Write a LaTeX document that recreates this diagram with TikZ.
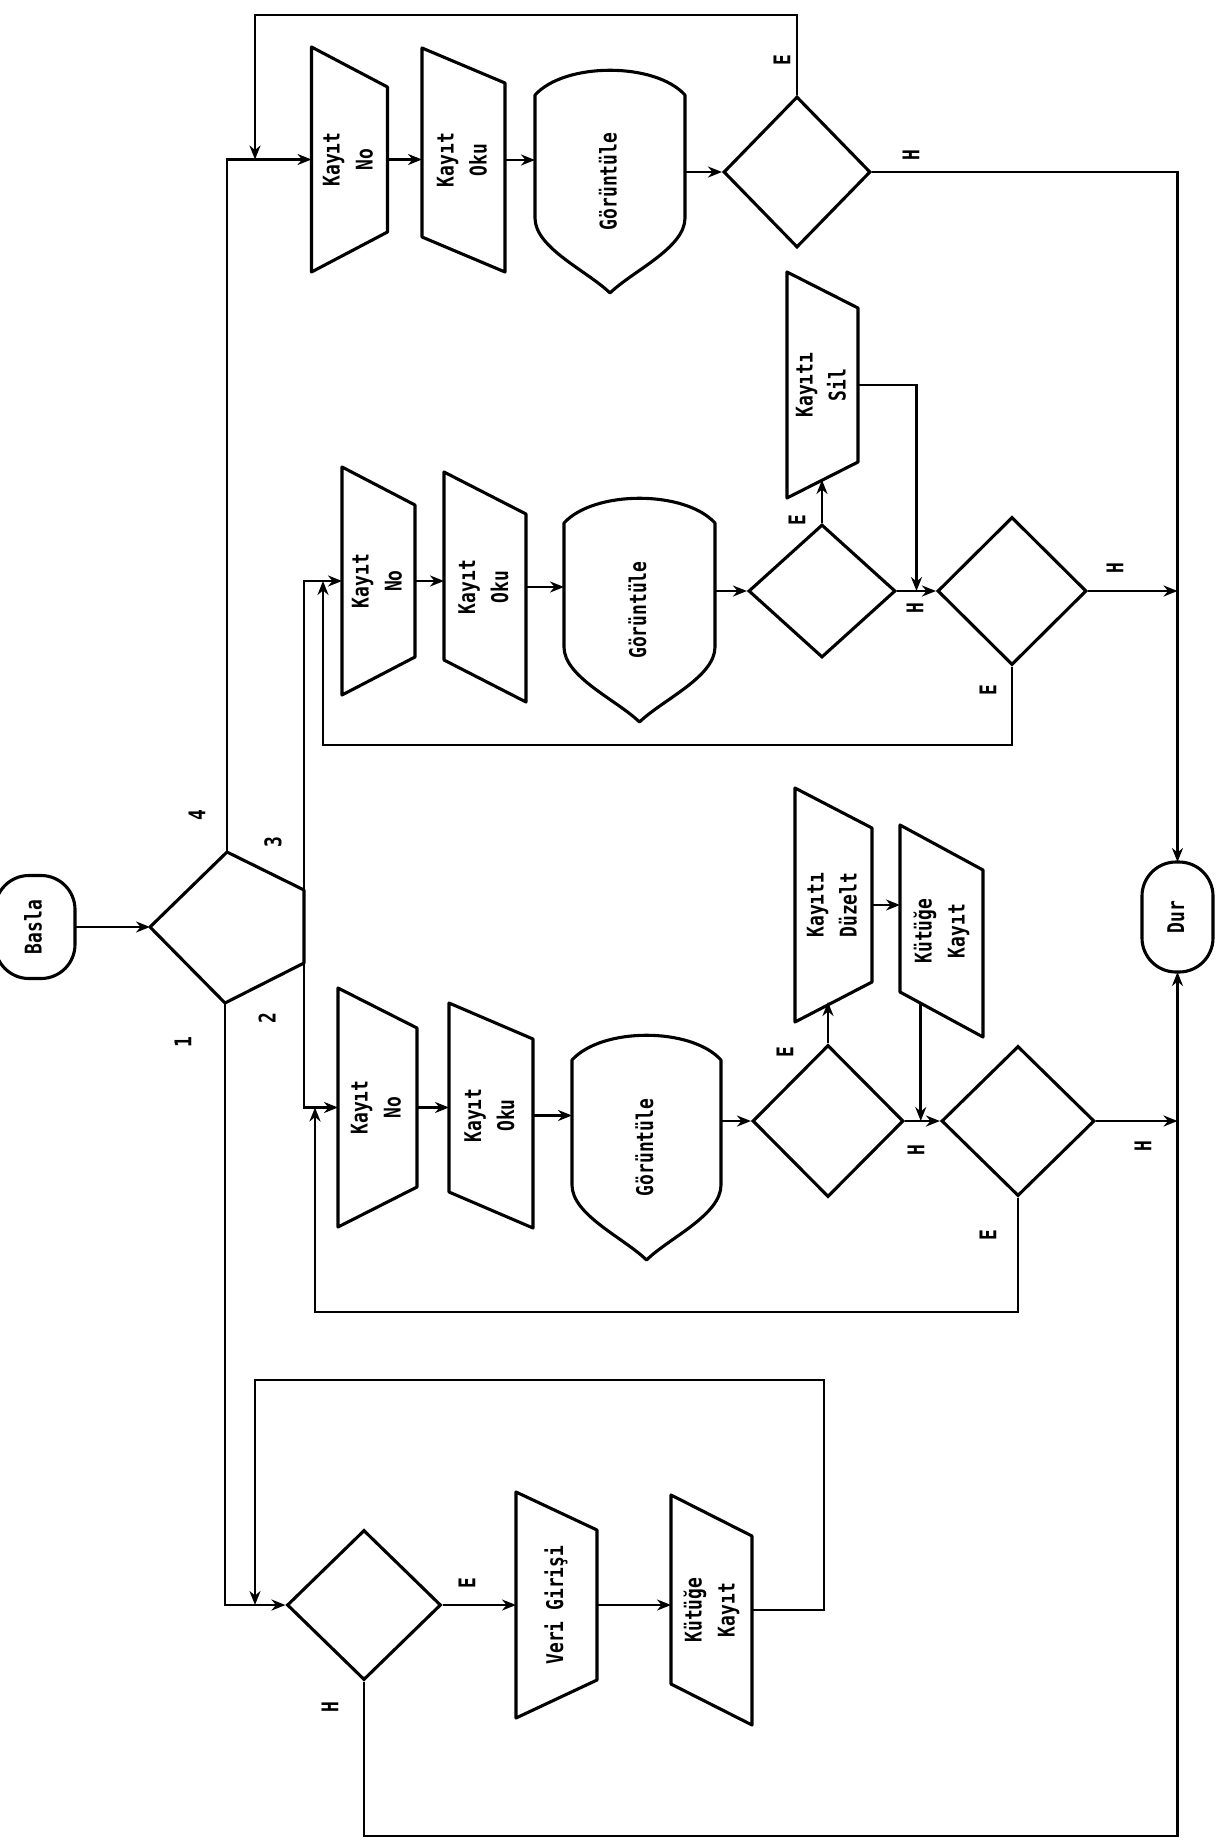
\documentclass[tikz,border=0pt]{standalone}
\usepackage{fontspec}
\setmonofont{DejaVu Sans Mono}[FakeStretch=0.78]
\usetikzlibrary{calc,shapes.geometric,arrows.meta}
\newcommand\prt{\ttfamily\bfseries\fontsize{23}{33}\selectfont}
\newcommand\vtxt[1]{\rotatebox{90}{\begin{tabular}{@{}c@{}}#1\end{tabular}}}
\newcommand\manin[2]{\draw[shp] (#1.north west) -- (#1.south west) -- ($(#1.south east)+(0,-#2)$) -- ($(#1.north east)+(0,#2)$) -- cycle;}
\newcommand\datain[2]{\draw[shp] (#1.north west) -- ($(#1.south west)+(0,-#2)$) -- (#1.south east) -- ($(#1.north east)+(0,#2)$) -- cycle;}
\newcommand\disp[1]{\draw[shp] ($(#1.north west)+(0,25)$) .. controls ($(#1.north west)!0.2!(#1.north east)+(0,-8)$) and ($(#1.north west)!0.8!(#1.north east)+(0,-8)$) .. ($(#1.north east)+(0,25)$) -- ($(#1.south east)+(0,-75)$) .. controls ($(#1.south east)+(0,-45)$) and ($(#1.south)!0.3!(#1.south east)+(0,-22)$) .. (#1.south) .. controls ($(#1.south)!0.3!(#1.south west)+(0,-22)$) and ($(#1.south west)+(0,-45)$) .. ($(#1.south west)+(0,-75)$) -- cycle;}
\begin{document}
\begin{tikzpicture}[x=1pt,y=-1pt,>={Stealth[length=14pt,width=11pt]},line width=2.8pt,
  shp/.style={line width=3.1pt,line join=round},
  blk/.style={inner sep=0pt,outer sep=0pt,font=\prt},
  sz/.style 2 args={minimum width=#1pt,minimum height=#2pt},
  dec/.style={diamond,draw,line width=3.1pt,inner sep=0pt},
  term/.style={blk,draw,line width=3.1pt,rounded corners=34pt},
  lbl/.style={font=\prt,rotate=90,inner sep=1pt}]
\fill[white] (0,0) rectangle (1217,1840);
\useasboundingbox (0,0) rectangle (1217,1840);

\node[term,sz={80}{103}] (basla) at (35,927) {\vtxt{Basla}};
\node[term,sz={71}{110}] (dur) at (1177.5,917) {\vtxt{Dur}};
\coordinate (dMw) at (150,927);
\coordinate (dMn) at (227,852);
\coordinate (dMne) at (304,890);
\coordinate (dMse) at (304,963);
\coordinate (dMs) at (225,1003);
\draw[shp] (dMw) -- (dMn) -- (dMne) -- (dMse) -- (dMs) -- cycle;
\draw[->] (basla.east) -- (dMw);

\node[blk,sz={76}{225}] (knA) at (349.5,159.5) {\vtxt{Kayıt\\No}};
\node[blk,sz={83}{224}] (koA) at (463.5,160) {\vtxt{Kayıt\\Oku}};
\node[blk,sz={150}{223}] (gA) at (610,181.5) {\vtxt{Görüntüle}};
\node[dec,sz={147}{151}] (dA) at (797,172) {};
\manin{knA}{40}
\datain{koA}{35}
\disp{gA}
\coordinate (lpA) at (255,15);
\draw[->] (dMn) |- (knA.west);
\draw[->] (dA.north) |- (lpA) -- (lpA |- knA.west);
\draw[->] (knA.east) -- (knA.east -| koA.west);
\draw[->] (koA.east) -- (koA.east -| gA.west);
\draw[->] (gA.east |- dA.west) -- (dA.west);
\draw[->] (dA.east) -| (dur.north);

\node[blk,sz={73}{228}] (knB) at (378.5,581) {\vtxt{Kayıt\\No}};
\node[blk,sz={82}{230}] (koB) at (485,587) {\vtxt{Kayıt\\Oku}};
\node[blk,sz={151}{224}] (gB) at (639.5,610) {\vtxt{Görüntüle}};
\node[dec,sz={147}{133}] (dB1) at (822,591) {};
\node[dec,sz={149}{148}] (dB2) at (1012,591) {};
\node[blk,sz={71}{226}] (sil) at (822.5,385) {\vtxt{Kayıtı\\Sil}};
\manin{knB}{38}
\datain{koB}{42}
\disp{gB}
\manin{sil}{36}
\coordinate (lpB) at (323,745);
\coordinate (silIn) at ($(sil.south)+(0,-18)$);
\draw[->] (dMne) |- (knB.west);
\draw[->] (dB2.south) |- (lpB) -- (lpB |- knB.west);
\draw[->] (knB.east) -- (knB.east -| koB.west);
\draw[->] (koB.east) -- (koB.east -| gB.west);
\draw[->] (gB.east |- dB1.west) -- (dB1.west);
\draw[->] (dB1.north) -- (dB1.north |- silIn);
\draw[->] (sil.east) -| ($(dB1.east)!0.5!(dB2.west)$);
\draw[->] (dB1.east) -- (dB2.west);
\draw[->] (dB2.east) -- (dB2.east -| dur.north);

\node[blk,sz={79}{239}] (knC) at (377.5,1107.5) {\vtxt{Kayıt\\No}};
\node[blk,sz={84}{225}] (koC) at (491,1115.5) {\vtxt{Kayıt\\Oku}};
\node[blk,sz={149}{225}] (gC) at (646.5,1147.5) {\vtxt{Görüntüle}};
\node[dec,sz={151}{152}] (dC1) at (828,1121) {};
\node[dec,sz={153}{150}] (dC2) at (1018,1121) {};
\node[blk,sz={77}{234}] (duz) at (833.5,905) {\vtxt{Kayıtı\\Düzelt}};
\node[blk,sz={83}{212}] (kkC) at (941.5,931) {\vtxt{Kütüğe\\Kayıt}};
\manin{knC}{40}
\datain{koC}{36}
\disp{gC}
\manin{duz}{40}
\datain{kkC}{45}
\coordinate (lpC) at (315,1312);
\coordinate (duzIn) at ($(duz.south)+(0,-20)$);
\coordinate (kkCout) at ($(kkC.south west)!0.25!(kkC.south east)+(0,-34)$);
\draw[->] (dMse) |- (knC.west);
\draw[->] (dC2.south) |- (lpC) -- (lpC |- knC.west);
\draw[->] (knC.east) -- (knC.east -| koC.west);
\draw[->] (koC.east) -- (koC.east -| gC.west);
\draw[->] (gC.east |- dC1.west) -- (dC1.west);
\draw[->] (dC1.north) -- (dC1.north |- duzIn);
\draw[->] (duz.east) -- (duz.east -| kkC.west);
\draw[->] (kkCout) -- (kkCout |- dC1.east);
\draw[->] (dC1.east) -- (dC2.west);
\draw[->] (dC2.east) -- (dC2.east -| dur.north);

\node[dec,sz={154}{150}] (dD) at (364,1605) {};
\node[blk,sz={81}{226}] (veri) at (556.5,1605) {\vtxt{Veri Girişi}};
\node[blk,sz={81}{230}] (kkD) at (711.5,1610) {\vtxt{Kütüğe\\Kayıt}};
\manin{veri}{38}
\datain{kkD}{41}
\coordinate (lpD1) at (824,1380);
\coordinate (lpD2) at (255,1380);
\coordinate (bot) at (1177.5,1836);
\draw[->] (dMs) |- (dD.west);
\draw[->] (dD.east) -- (dD.east -| veri.west);
\draw[->] (veri.east) -- (veri.east -| kkD.west);
\draw[->] (kkD.east) -| (lpD1) -- (lpD2) -- (lpD2 |- dD.west);
\draw[->] (dD.south) |- (bot) -- (dur.south);

\node[lbl] (l4) at (197,815) {4};
\node[lbl] (l3) at (273,842) {3};
\node[lbl] (l2) at (267,1018) {2};
\node[lbl] (l1) at (183,1042) {1};
\node[lbl] (eA) at (782,60) {E};
\node[lbl] (hA) at (911,155) {H};
\node[lbl] (eB1) at (797,520) {E};
\node[lbl] (hB1) at (915,608) {H};
\node[lbl] (hB2) at (1115,568) {H};
\node[lbl] (eB2) at (988,690) {E};
\node[lbl] (eC1) at (785,1052) {E};
\node[lbl] (hC1) at (916,1150) {H};
\node[lbl] (hC2) at (1143,1146) {H};
\node[lbl] (eC2) at (988,1235) {E};
\node[lbl] (eD) at (467,1583) {E};
\node[lbl] (hD) at (330,1707) {H};
\end{tikzpicture}
\end{document}
